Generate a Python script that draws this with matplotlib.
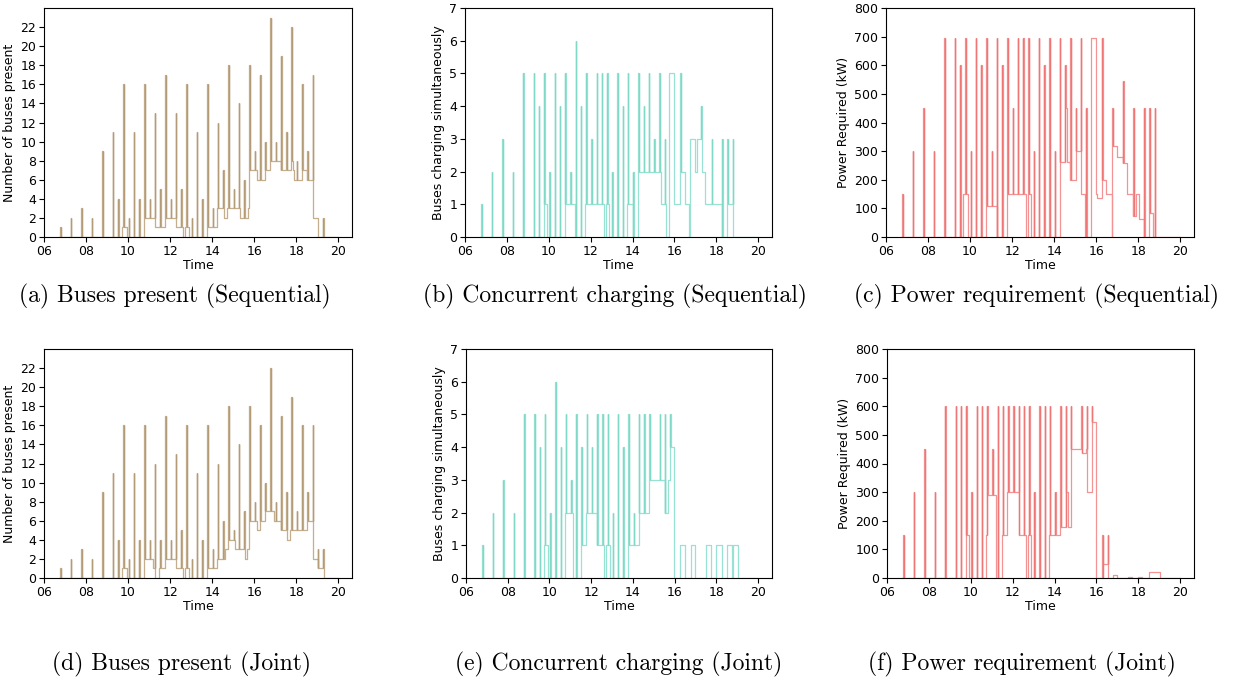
import matplotlib
matplotlib.use("Agg")
import matplotlib.pyplot as plt
import numpy as np

# arrival instants (hours) shared by all panels
arrivals = [6.78, 7.28, 7.78, 8.28, 8.78,
            9.28, 9.53, 9.78, 10.03, 10.28, 10.53, 10.78, 11.03,
            11.28, 11.53, 11.78, 12.03, 12.28, 12.53, 12.78, 13.03,
            13.28, 13.53, 13.78, 14.03, 14.28, 14.53, 14.78, 15.03,
            15.28, 15.53, 15.78, 16.03, 16.28, 16.53, 16.78, 17.03,
            17.28, 17.53, 17.78, 18.03, 18.28, 18.53, 18.78, 19.03,
            19.28]

# spike heights at each arrival (0 = no spike)
present_seq_spk = [1, 2, 3, 2, 9,
                   11, 4, 16, 2, 11, 4, 16, 4,
                   13, 5, 17, 4, 13, 5, 16, 2,
                   11, 4, 16, 3, 12, 7, 18, 5,
                   14, 6, 18, 9, 17, 10, 23, 10,
                   19, 11, 22, 8, 16, 9, 17, 0,
                   2]
present_joint_spk = [1, 2, 3, 2, 9,
                     11, 4, 16, 2, 11, 4, 16, 4,
                     12, 4, 17, 4, 13, 5, 16, 2,
                     11, 4, 16, 3, 12, 6, 18, 5,
                     14, 7, 18, 8, 16, 10, 22, 8,
                     17, 9, 19, 7, 16, 9, 16, 3,
                     3]
charging_seq_spk = [1, 2, 3, 2, 5,
                    5, 4, 5, 2, 5, 4, 5, 2,
                    6, 4, 5, 3, 5, 5, 5, 2,
                    5, 4, 5, 2, 5, 4, 5, 3,
                    5, 3, 0, 0, 5, 0, 0, 0,
                    4, 0, 3, 0, 3, 3, 3, 0,
                    0]
charging_joint_spk = [1, 2, 3, 2, 5,
                      5, 4, 5, 2, 6, 4, 5, 3,
                      5, 4, 5, 4, 5, 5, 5, 2,
                      5, 4, 5, 2, 5, 5, 5, 0,
                      5, 5, 5, 0, 0, 0, 0, 0,
                      0, 0, 0, 0, 0, 0, 0, 0,
                      0]
power_seq_spk = [150, 300, 450, 300, 695,
                 695, 600, 695, 300, 695, 600, 695, 300,
                 695, 600, 695, 450, 695, 695, 695, 300,
                 695, 600, 695, 300, 695, 600, 695, 450,
                 695, 450, 695, 0, 695, 0, 450, 0,
                 545, 0, 450, 0, 450, 450, 450, 0,
                 0]
power_joint_spk = [150, 300, 450, 300, 600,
                   600, 600, 600, 300, 600, 600, 600, 450,
                   600, 600, 600, 600, 600, 600, 600, 300,
                   600, 600, 600, 300, 600, 600, 600, 0,
                   600, 600, 600, 0, 150, 150, 0, 0,
                   0, 0, 0, 0, 0, 0, 0, 0,
                   0]

# underlying levels between arrivals: change times and values
present_seq_t = [6.7, 9.73, 9.94, 10.75, 11.3, 11.75, 12.3, 12.63, 12.73, 12.9, 13.75,
                 14.25, 14.57, 14.73, 15.35, 15.7, 15.76, 16.15, 16.5, 16.76, 17.27,
                 17.76, 17.85, 17.92, 18.27, 18.5, 18.8, 19.02, 20.0]
present_seq_v = [0, 1, 0, 2, 1, 2, 1, 0, 1, 0, 1,
                 3, 2, 3, 2, 3, 7, 6, 7, 8, 7,
                 8, 7, 6, 7, 6, 2, 0, 0]
present_joint_t = [6.7, 9.73, 9.95, 10.75, 11.2, 11.3, 11.48, 11.75, 12.3, 12.63, 12.73,
                   12.9, 13.75, 14.25, 14.6, 14.76, 15.1, 15.55, 15.68, 15.76, 16.15,
                   16.27, 16.5, 16.97, 17.27, 17.58, 17.7, 18.5, 18.8, 19.02, 19.3, 20.0]
present_joint_v = [0, 1, 0, 2, 1, 0, 1, 2, 1, 0, 1,
                   0, 1, 2, 3, 4, 3, 2, 3, 6, 5,
                   6, 7, 6, 5, 4, 5, 6, 2, 1, 0, 0]
charging_seq_t = [6.7, 9.75, 9.92, 10.76, 11.27, 11.75, 12.63, 12.75, 12.9, 13.72, 14.0,
                  14.27, 15.35, 15.6, 15.76, 15.97, 16.28, 16.5, 16.68, 16.76, 17.0,
                  17.08, 17.3, 17.47, 18.25, 18.5, 18.8, 20.0]
charging_seq_v = [0, 1, 0, 1, 0, 1, 0, 1, 0, 1, 0,
                  2, 1, 0, 5, 1, 2, 1, 0, 3, 2,
                  3, 2, 1, 0, 1, 0, 0]
charging_joint_t = [6.7, 9.73, 9.93, 10.75, 11.15, 11.5, 11.75, 12.27, 12.6, 12.73, 12.88,
                    13.75, 14.27, 14.78, 15.52, 15.67, 15.77, 15.97, 16.27, 16.5, 16.77,
                    16.97, 17.5, 17.72, 17.99, 18.25, 18.5, 18.75, 18.8, 19.05, 20.0]
charging_joint_v = [0, 1, 0, 2, 0, 1, 2, 1, 0, 1, 0,
                    1, 2, 3, 2, 3, 4, 0, 1, 0, 1,
                    0, 1, 0, 1, 0, 1, 0, 1, 0, 0]
power_seq_t = [6.7, 9.68, 9.9, 10.78, 11.27, 11.78, 12.67, 12.75, 12.9, 14.28, 14.55,
               14.63, 14.77, 15.03, 15.3, 15.48, 15.78, 16.0, 16.05, 16.28, 16.48,
               16.75, 16.78, 17.0, 17.27, 17.48, 17.76, 17.9, 18.06, 18.27, 18.51,
               18.73, 20.0]
power_seq_v = [0, 150, 0, 110, 0, 150, 0, 150, 0, 262, 450,
               262, 200, 300, 150, 0, 695, 150, 135, 200, 150,
               0, 318, 280, 258, 150, 75, 150, 63, 0, 85,
               0, 0]
power_joint_t = [6.7, 9.75, 9.9, 10.75, 10.8, 11.2, 11.5, 11.75, 12.28, 12.62, 12.75,
                 12.88, 13.75, 14.28, 14.55, 14.62, 14.78, 15.28, 15.48, 15.55, 15.78,
                 16.0, 16.3, 16.55, 16.78, 17.0, 17.5, 17.68, 18.0, 18.2, 18.5,
                 18.78, 19.05, 20.0]
power_joint_v = [0, 150, 0, 150, 290, 0, 150, 300, 150, 0, 150,
                 0, 150, 178, 300, 178, 450, 435, 450, 300, 545,
                 0, 50, 0, 10, 0, 5, 0, 3, 0, 20,
                 22, 0, 0]

hour_ticks = [6, 8, 10, 12, 14, 16, 18, 20]
hour_labels = ["06", "08", "10", "12", "14", "16", "18", "20"]

# (line colour, darker spike colour)
TAN = ("#c4ae8d", "#b39b77")
TEAL = ("#98e2d3", "#7fd9c6")
RED = ("#f39393", "#f07575")


def step_series(base_t, base_v, spk, width=0.025):
    # merge the slow levels with the short spikes at each arrival
    base_t = np.asarray(base_t, dtype=float)
    base_v = np.asarray(base_v, dtype=float)
    spk_t = np.array([t for t, v in zip(arrivals, spk) if v > 0])
    spk_v = np.array([v for v in spk if v > 0])
    knots = np.unique(np.concatenate([base_t, spk_t, spk_t + width]))
    idx = np.clip(np.searchsorted(base_t, knots, side="right") - 1, 0, None)
    y = base_v[idx].copy()
    for t, v in zip(spk_t, spk_v):
        y[(knots >= t - 1e-9) & (knots < t + width - 1e-9)] = v
    below = base_v[np.clip(np.searchsorted(base_t, spk_t, side="right") - 1, 0, None)]
    return knots, y, spk_t, spk_v, below


panels = [
    (44, 8, 308, present_seq_t, present_seq_v, present_seq_spk, TAN, 24, range(0, 23, 2),
     "Number of buses present", "(a) Buses present (Sequential)", 175),
    (465, 8, 307, charging_seq_t, charging_seq_v, charging_seq_spk, TEAL, 7, range(0, 8),
     "Buses charging simultaneously", "(b) Concurrent charging (Sequential)", 615),
    (886, 8, 308, power_seq_t, power_seq_v, power_seq_spk, RED, 800, range(0, 801, 100),
     "Power Required (kW)", "(c) Power requirement (Sequential)", 1036),
    (44, 349, 308, present_joint_t, present_joint_v, present_joint_spk, TAN, 24, range(0, 23, 2),
     "Number of buses present", "(d) Buses present (Joint)", 182),
    (466, 349, 306, charging_joint_t, charging_joint_v, charging_joint_spk, TEAL, 7, range(0, 8),
     "Buses charging simultaneously", "(e) Concurrent charging (Joint)", 619),
    (887, 349, 307, power_joint_t, power_joint_v, power_joint_spk, RED, 800, range(0, 801, 100),
     "Power Required (kW)", "(f) Power requirement (Joint)", 1022),
]

W, H = 1240, 684
fig = plt.figure(figsize=(W / 100, H / 100), dpi=100)

for left, top, width, bt, bv, spk, colors, ymax, yticks, ylabel, caption, cx in panels:
    ax = fig.add_axes([left / W, 1 - (top + 229) / H, width / W, 229 / H])
    x, y, st, sv, below = step_series(bt, bv, spk)
    ax.step(x, y, where="post", color=colors[0], lw=0.9)
    # spikes look darker where the up and down strokes overlap
    ax.vlines(st + 0.0125, below, sv, color=colors[1], lw=1.0)
    ax.set_xlim(6, 20.66)
    ax.set_ylim(0, ymax)
    ax.set_xticks(hour_ticks)
    ax.set_xticklabels(hour_labels)
    ax.set_yticks(list(yticks))
    ax.tick_params(labelsize=9, length=3.5, pad=2)
    ax.set_xlabel("Time", fontsize=9, labelpad=1)
    ax.set_ylabel(ylabel, fontsize=9, labelpad=3)
    cy = 296 if top < 100 else 664
    fig.text(cx / W, 1 - cy / H, caption, ha="center", va="center",
             fontfamily="cmr10", fontsize=17)

fig.savefig("out.png", dpi=100)
